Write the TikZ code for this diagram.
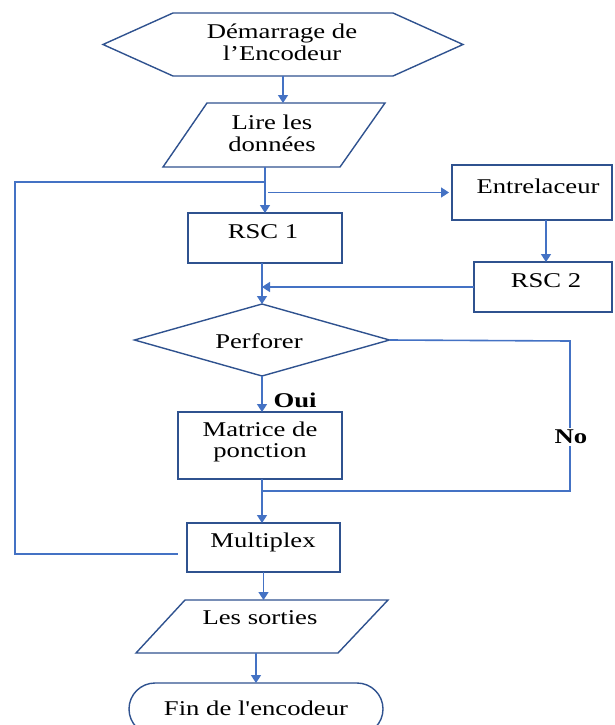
\documentclass[tikz,border=0pt]{standalone}
\usepackage{fontspec}
\setmainfont{Liberation Serif}[FakeStretch=1.27,Ligatures=TeXOff]
\usetikzlibrary{arrows.meta,calc}
\definecolor{linkblue}{HTML}{4472C4}
\definecolor{edgeblue}{HTML}{2F528F}
\begin{document}
\begin{tikzpicture}[x=1pt,y=-1pt,
  outline/.style={draw=edgeblue,line width=1.4pt,line join=miter},
  frame/.style={draw=none,inner sep=0pt,outer sep=0pt},
  box/.style={outline,inner sep=0pt,outer sep=0pt},
  txt/.style={inner sep=0pt,align=center,font=\fontsize{21}{21.5}\selectfont},
  tag/.style={inner sep=0pt,font=\fontsize{21}{21.5}\selectfont\bfseries},
  flow/.style={draw=linkblue,line width=1.6pt},
  arr/.style={flow,-{Triangle[length=8pt,width=10pt]}}
]
\useasboundingbox (0,0) rectangle (614,725);

% start (hexagon)
\node[frame,minimum width=360pt,minimum height=63pt] (start) at (283,44.5) {};
\draw[outline] ($(start.north west)+(70,0)$) -- ($(start.north east)+(-70,0)$)
  -- (start.east) -- ($(start.south east)+(-70,0)$) -- ($(start.south west)+(70,0)$)
  -- (start.west) -- cycle;
\node[txt] (t-start) at (282,42.5) {Démarrage de\\l’Encodeur};

% input (parallelogram)
\node[frame,minimum width=222pt,minimum height=64pt] (lire) at (274,135) {};
\draw[outline] ($(lire.north west)+(44,0)$) -- (lire.north east)
  -- ($(lire.south east)+(-45,0)$) -- (lire.south west) -- cycle;
\node[txt] (t-lire) at (272,133.5) {Lire les\\données};

% encoders
\node[box,minimum width=154pt,minimum height=50pt] (rsc1) at (265,238) {};
\node[txt] (t-rsc1) at (263,232) {RSC 1};
\node[box,minimum width=160pt,minimum height=55pt] (ent) at (532,192.5) {};
\node[txt] (t-ent) at (538,186) {Entrelaceur};
\node[box,minimum width=138pt,minimum height=50pt] (rsc2) at (543,287) {};
\node[txt] (t-rsc2) at (546,281) {RSC 2};

% decision
\node[frame,minimum width=255pt,minimum height=72pt] (dia) at (262,340) {};
\draw[outline] (dia.north) -- (dia.east) -- (dia.south) -- (dia.west) -- cycle;
\node[txt] (t-dia) at (259,341) {Perforer};

\node[box,minimum width=164pt,minimum height=67pt] (mat) at (260,445.5) {};
\node[txt] (t-mat) at (260,442) {Matrice de\\ponction};

\node[box,minimum width=153pt,minimum height=49pt] (mux) at (263.5,547.5) {};
\node[txt] (t-mux) at (263,542) {Multiplex};

% output (parallelogram)
\node[frame,minimum width=252pt,minimum height=53pt] (sortie) at (262,626.5) {};
\draw[outline] ($(sortie.north west)+(49,0)$) -- (sortie.north east)
  -- ($(sortie.south east)+(-50,0)$) -- (sortie.south west) -- cycle;
\node[txt] (t-sortie) at (260,618) {Les sorties};

% end (terminal)
\node[box,minimum width=254pt,minimum height=52pt,rounded corners=26pt] (fin) at (256,709) {};
\node[txt] (t-fin) at (256,708) {Fin de l'encodeur};

% junction points
\coordinate (fork) at (265,182);
\coordinate (fork2) at (268,192.5);
\coordinate (join) at (262,491);
\coordinate (loopend) at (178,554);

% connectors
\draw[arr] (start.south) -- (start.south |- lire.north);
\draw[arr] (lire.south -| rsc1.north) -- (rsc1.north);
\draw[flow] (fork) -- (15,182) -- (15,554) -- (loopend);
\draw[arr,shorten >=3pt] (fork2) -- (ent.west);
\draw[arr] ($(ent.south)+(14,0)$) -- ($(rsc2.north)+(3,0)$);
\draw[arr] (rsc1.south -| dia.north) -- (dia.north);
\draw[arr] (rsc2.west) -- (rsc2.west -| dia.north);
\draw[arr] (dia.south) -- (dia.south |- mat.north);
\node[tag] (oui) at (295,400) {Oui};
\draw[flow] (dia.east) -- (570,341) -- (570,491) -- (join);
\node[tag,fill=white,inner sep=2pt] (no) at (571,437) {No};
\draw[arr] (mat.south -| join) -- (join |- mux.north);
\draw[arr] (mux.south) -- (mux.south |- sortie.north);
\draw[arr] (sortie.south -| fin.north) -- (fin.north);
\end{tikzpicture}
\end{document}
